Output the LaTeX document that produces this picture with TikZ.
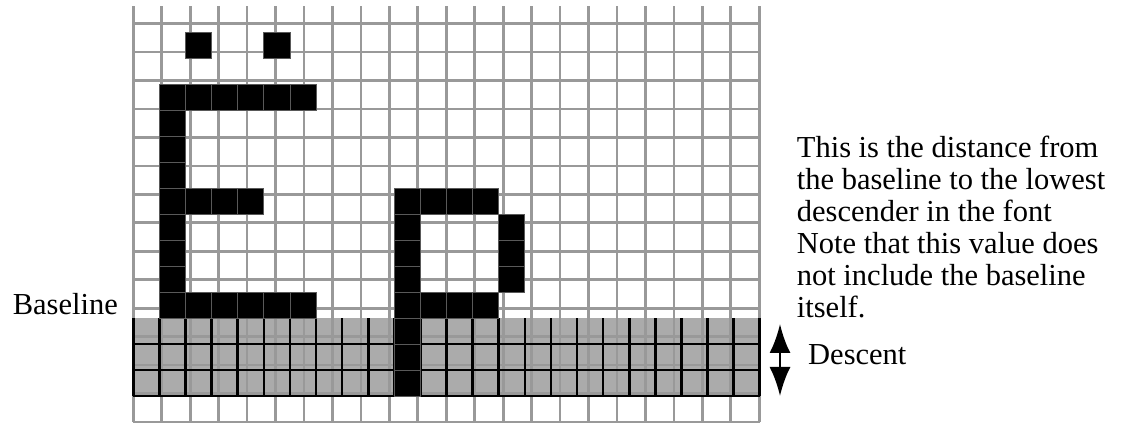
\documentclass[tikz,border=0pt]{standalone}
\usepackage{fontspec}
\setmainfont{Liberation Serif}
\usetikzlibrary{arrows.meta,positioning}
\tikzset{gl/.style={draw=gray!80,line width=2.7pt},bl/.style={draw=black,line width=2.6pt},px/.style={fill=black,draw=black!65,line width=.8pt},txt/.style={inner sep=0pt,font=\fontsize{30.5}{32}\selectfont},arr/.style={<->,line width=2.5pt,>={Latex[length=29pt,width=21pt]}}}
\begin{document}
\begin{tikzpicture}[x=26.1pt,y=26pt]
\useasboundingbox(-133.3pt,-1pt)rectangle(991.7pt,422pt);
% descent band
\fill[black!33](0,1)rectangle(24,4);
% grid
\draw[gl](0,0)grid(24,16);
\foreach\x in{0,...,24}\draw[bl](\x,1)--(\x,4);
\foreach\y in{1,...,3}{\draw[bl](0,\y)--(10,\y);\draw[bl](11,\y)--(24,\y);}
% pixels of the two letters (column/row from top)
\foreach\cx/\cy in{2/1,5/1,2/7,3/7,4/7,11/7,12/7,13/7,14/8,14/9,14/10,11/11,12/11,13/11}\path[px](\cx,15-\cy)rectangle++(1,1);
\foreach\cx in{1,...,6}{\path[px](\cx,12)rectangle++(1,1);\path[px](\cx,4)rectangle++(1,1);}
\foreach\cy in{4,...,10}\path[px](1,15-\cy)rectangle++(1,1);
\foreach\cy in{7,...,14}\path[px](10,15-\cy)rectangle++(1,1);
% labels
\node[txt,anchor=base east](base)at(-15.3pt,107pt){Baseline};
\node[txt,anchor=north west,align=left](note)at(663.4pt,286.3pt){This is the distance from\\the baseline to the lowest\\descender in the font\\Note that this value does\\not include the baseline\\itself.};
\coordinate(dt)at(646.7pt,98pt);\coordinate(db)at(646.7pt,26pt);
\draw[arr](dt)--(db);
\node[txt,anchor=base west](dsc)at(674.7pt,57pt){Descent};
\end{tikzpicture}
\end{document}
